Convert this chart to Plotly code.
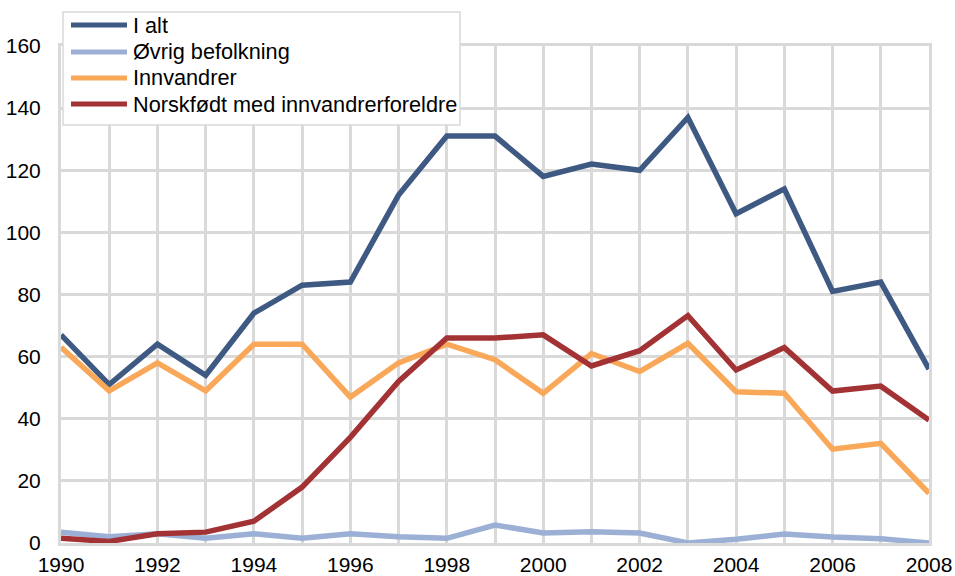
import plotly.graph_objects as go

years = list(range(1990, 2009))
i_alt = [67, 51, 64, 54, 74, 83, 84, 112, 131, 131, 118, 122, 120, 137, 106, 114, 81, 84, 56]
ovrig = [3.5, 2, 3, 1.5, 3, 1.5, 3, 2, 1.5, 5.8, 3.2, 3.6, 3.2, 0, 1.2, 2.9, 1.9, 1.4, 0]
innvandrer = [63, 49, 58, 49, 64, 64, 47, 58, 64, 59, 48.2, 61, 55.2, 64.3, 48.7, 48.2, 30.2, 32.1, 16]
norskfodt = [1.5, 0.5, 3, 3.5, 7, 18, 34, 52, 66, 66, 67, 57, 61.9, 73.2, 55.7, 62.9, 48.9, 50.5, 39.6]

names = ["I alt", "Øvrig befolkning", "Innvandrer", "Norskfødt med innvandrerforeldre"]
colors = ["#3f5a82", "#9bb0d4", "#f9a85a", "#a33234"]
values = [i_alt, ovrig, innvandrer, norskfodt]

W, H = 955, 576
ML, MR, MT, MB = 61, 26, 46, 33
PW, PH = W - ML - MR, H - MT - MB


def px(x):
    return (x - ML) / PW


def py(y):
    return (H - MB - y) / PH


fig = go.Figure()
for name, vals, col in zip(names, values, colors):
    fig.add_trace(go.Scatter(x=years, y=vals, name=name, mode="lines",
                             line=dict(color=col, width=5.5), showlegend=False))

grid = "#d9d9d9"

# legend box drawn in paper coordinates
shapes = [dict(type="rect", xref="paper", yref="paper",
               x0=px(63), x1=px(460), y0=py(125), y1=py(12),
               fillcolor="white", line=dict(color=grid, width=1.5), layer="above")]
annotations = []
row_y = [25, 52, 78, 104]
for name, col, ry in zip(names, colors, row_y):
    shapes.append(dict(type="line", xref="paper", yref="paper",
                       x0=px(71), x1=px(127), y0=py(ry), y1=py(ry),
                       line=dict(color=col, width=5), layer="above"))
    annotations.append(dict(xref="paper", yref="paper", x=px(131), y=py(ry),
                            xanchor="left", yanchor="middle", showarrow=False,
                            text=name, font=dict(size=21.7, color="#000000")))

fig.update_layout(
    width=W, height=H,
    margin=dict(l=ML, r=MR, t=MT, b=MB),
    paper_bgcolor="white", plot_bgcolor="white",
    font=dict(family="Liberation Sans, Arial, sans-serif", size=21, color="#000000"),
    showlegend=False,
    shapes=shapes,
    annotations=annotations,
    xaxis=dict(range=[1990, 2008], dtick=2, tick0=1990, showgrid=True,
               gridcolor=grid, gridwidth=3, automargin=False,
               minor=dict(dtick=1, showgrid=True, gridcolor=grid, gridwidth=3),
               showline=True, linecolor=grid, linewidth=3, mirror=True,
               zeroline=False, ticks="", ticklabelstandoff=1),
    yaxis=dict(range=[0, 160], dtick=20, showgrid=True, gridcolor=grid, gridwidth=3,
               showline=True, linecolor=grid, linewidth=3, mirror=True, automargin=False,
               zeroline=False, ticks="", ticklabelstandoff=13),
)
fig.write_html("out.html", config={"displayModeBar": False},
               post_script="document.body.style.margin='0';document.body.style.overflow='hidden';")
